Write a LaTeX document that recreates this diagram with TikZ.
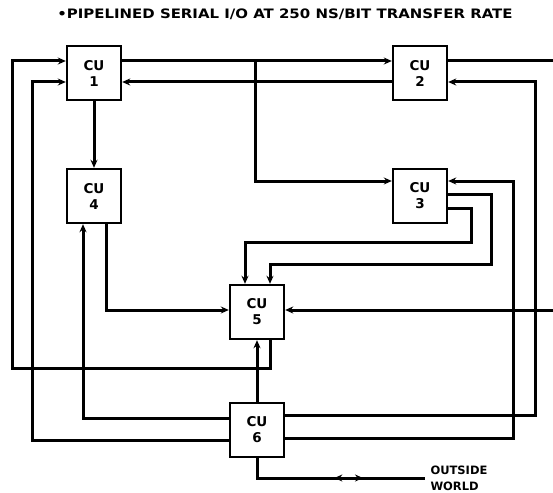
\documentclass[tikz,border=0pt]{standalone}
\usepackage{fontspec}
\setmainfont{DejaVu Sans}
\usetikzlibrary{arrows.meta,decorations.markings}

\begin{document}
\begin{tikzpicture}[x=1pt, y=-1pt, line width=3pt, >={Stealth[length=8pt,width=7pt]},
    cu/.style={draw, line width=2.4pt, minimum size=54pt, inner sep=0pt, align=center,
        font=\fontsize{13.5}{16}\selectfont\bfseries}]
    \useasboundingbox (0,0) rectangle (553,492);

    % Title
    \node[font=\fontsize{13}{15}\selectfont\bfseries] (title) at (285,14)
        {\scalebox{1.15}[1]{\textbullet PIPELINED SERIAL I/O AT 250 NS/BIT TRANSFER RATE}};

    % Nodes
    \node[cu] (cu1) at (94,73) {CU\\1};
    \node[cu] (cu2) at (420,73) {CU\\2};
    \node[cu] (cu4) at (94,196) {CU\\4};
    \node[cu] (cu3) at (420,196) {CU\\3};
    \node[cu] (cu5) at (257,312) {CU\\5};
    \node[cu] (cu6) at (257,430) {CU\\6};
    \node[anchor=west, inner sep=4pt, align=left,
        font=\fontsize{11.5}{16}\selectfont\bfseries] (ow) at (425,478) {OUTSIDE\\WORLD};

    % Edges
    \draw[->] ([yshift=12pt]cu1.east) -- ([yshift=12pt]cu2.west);
    \draw[->] (255,61) |- ([yshift=15pt]cu3.west);
    \draw[->] ([yshift=-9pt]cu2.west) -- ([yshift=-9pt]cu1.east);
    \draw[->] (cu1) -- (cu4);
    \draw[->] ([yshift=12pt]cu2.east) -- (556,61) |- ([yshift=2pt]cu5.east);
    \draw[->] ([yshift=15pt]cu6.east) -| (535,82) -- ([yshift=-9pt]cu2.east);
    \draw[->] ([yshift=-8pt]cu6.east) -| (513,181) -- ([yshift=15pt]cu3.east);
    \draw[->] ([yshift=2pt]cu3.east) -| (491,264) -| ([xshift=13pt]cu5.north);
    \draw[->] ([yshift=-12pt]cu3.east) -| (471,242) -| ([xshift=-12pt]cu5.north);
    \draw[->] ([xshift=12pt]cu4.south) |- ([yshift=2pt]cu5.west);
    \draw[->] ([yshift=12pt]cu6.west) -| ([xshift=-11pt]cu4.south);
    \draw[->] ([yshift=-10pt]cu6.west) -| (32,82) -- ([yshift=-9pt]cu1.west);
    \draw[->] ([xshift=13pt]cu5.south) |- (12,368) |- ([yshift=12pt]cu1.west);
    \draw[->] (cu6) -- (cu5);

    % Outside world link
    \draw[decoration={markings,
            mark=at position 0.56 with {\arrow{<}},
            mark=at position 0.67 with {\arrow{>}}},
        postaction={decorate}] (cu6.south) |- (ow.west);
\end{tikzpicture}
\end{document}
